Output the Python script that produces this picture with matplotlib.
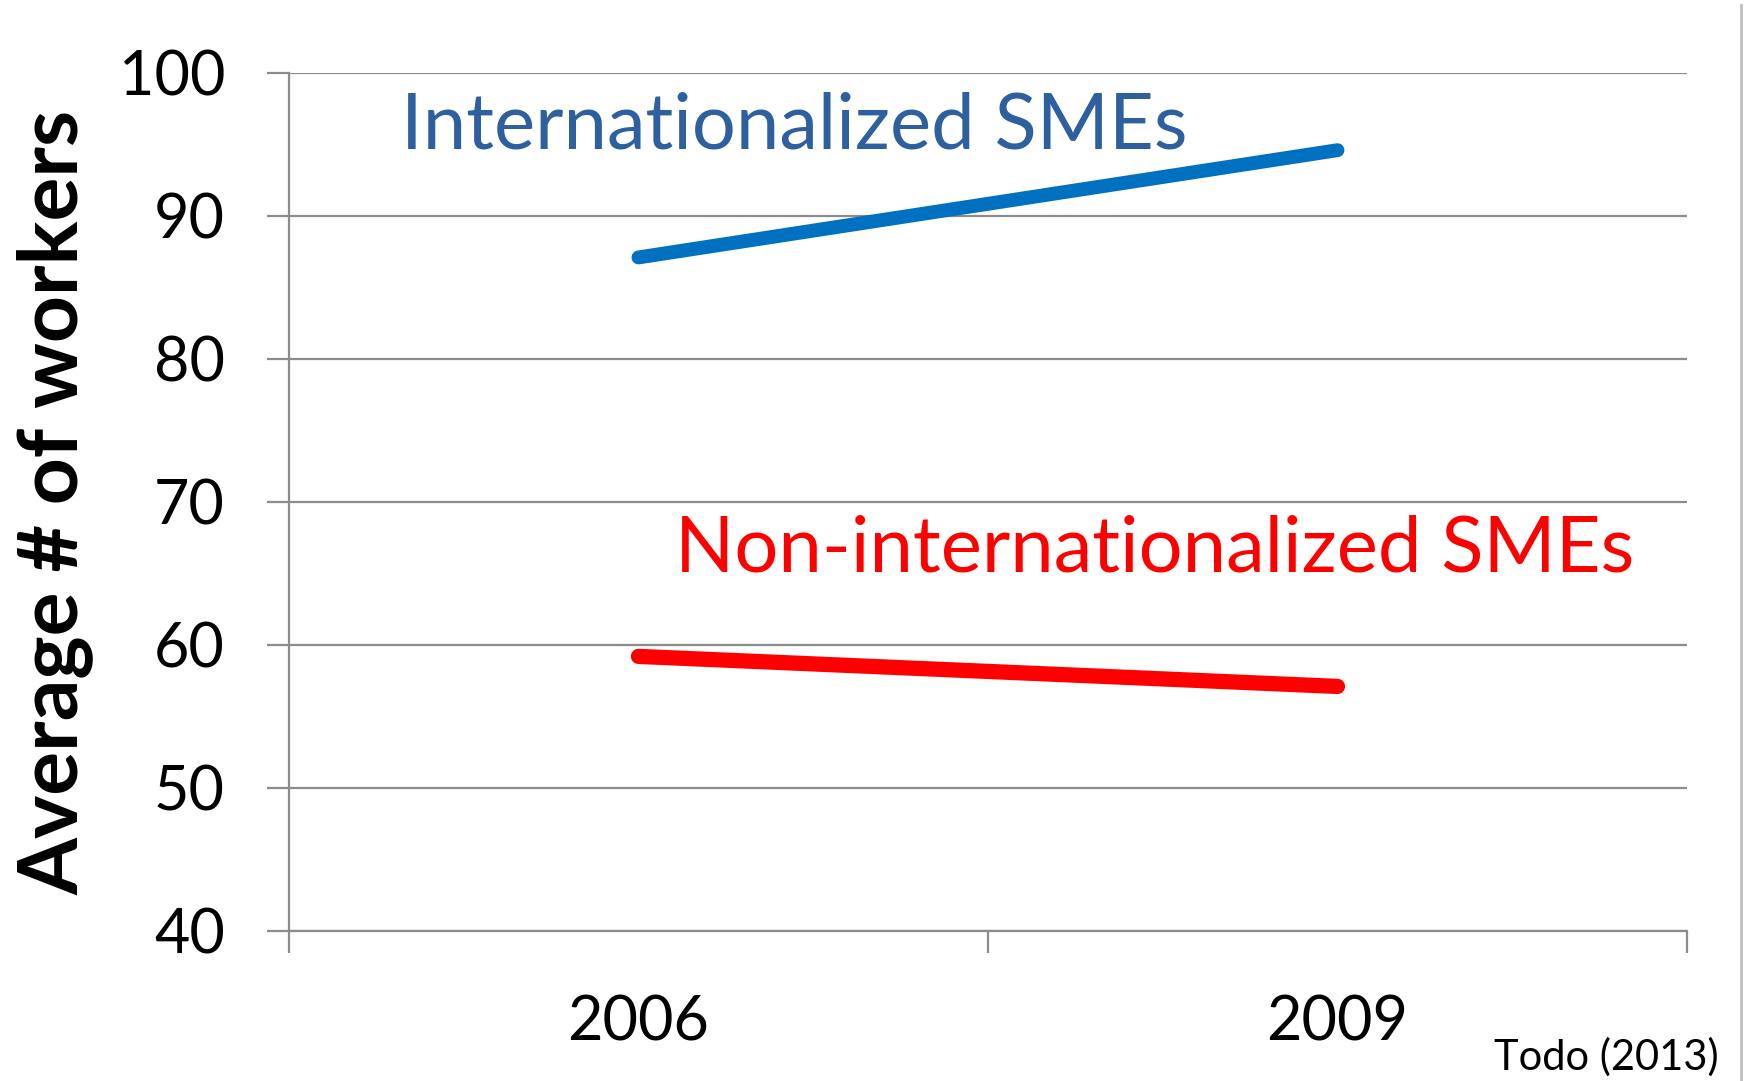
import matplotlib.pyplot as plt
from matplotlib.lines import Line2D

# Datos
years = ['2006', '2009']
intl = [87.1, 94.6]
non_intl = [59.2, 57.1]
yticks = [40, 50, 60, 70, 80, 90, 100]

plt.rcParams['font.family'] = ['Lato', 'DejaVu Sans']

fig = plt.figure(figsize=(17.48, 10.81), dpi=100)
ax = fig.add_axes([0.1653, 0.1388, 0.7998, 0.7937])

x = list(range(len(years)))
ax.plot(x, intl, color='#0070C0', lw=10, solid_capstyle='round', zorder=3)
ax.plot(x, non_intl, color='#FF0000', lw=11, solid_capstyle='round', zorder=3)

grey = '#8C8C8C'
ax.set_ylim(40, 100)
ax.set_xlim(-0.5, len(years) - 0.5)
ax.set_yticks(yticks)
ax.set_yticklabels([str(v) for v in yticks], fontsize=44)
ax.yaxis.grid(True, color=grey, lw=1.6)
ax.set_axisbelow(True)

# marcas entre categorias y etiquetas en el centro
ax.set_xticks([i - 0.5 for i in range(len(years) + 1)])
ax.set_xticklabels([])
ax.set_xticks(x, minor=True)
ax.set_xticklabels(years, minor=True, fontsize=44)
ax.tick_params(axis='x', which='minor', length=0, pad=46)
ax.tick_params(axis='x', which='major', length=16, width=1.6, color=grey, direction='out')
ax.tick_params(axis='y', length=16, width=1.6, color=grey, pad=30)

for s in ['top', 'right']:
    ax.spines[s].set_visible(False)
for s in ['left', 'bottom']:
    ax.spines[s].set_color(grey)
    ax.spines[s].set_linewidth(1.6)

ax.set_ylabel('Average # of workers', fontsize=59, fontweight='bold', va='center')
ax.yaxis.set_label_coords(-0.167, 0.5)

fig.text(0.2295, 0.8826, 'Internationalized SMEs', color='#2E5F9E', fontsize=56, va='center')
fig.text(0.386, 0.4916, 'Non-internationalized SMEs', color='#FF0000', fontsize=56, va='center')
fig.text(0.983, 0.022, 'Todo (2013)', fontsize=30, ha='right', va='center')

# linea vertical en el borde derecho
fig.add_artist(Line2D([0.9962, 0.9962], [0, 0.995], transform=fig.transFigure, color='#BFBFBF', lw=2))

fig.savefig('out.png', dpi=100)
